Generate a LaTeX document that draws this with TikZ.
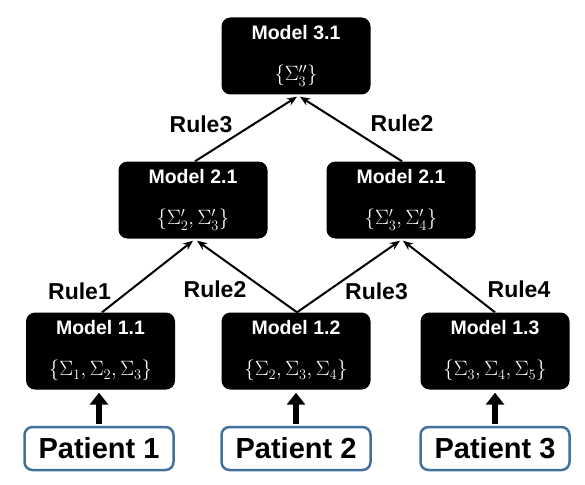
\documentclass[tikz,border=0pt]{standalone}
\usepackage{fontspec}
\setmainfont{Liberation Sans}
\usetikzlibrary{arrows.meta,positioning}
\definecolor{patblue}{HTML}{41719C}

\begin{document}
\begin{tikzpicture}[x=1pt,y=-1pt,>={Stealth[length=10pt,width=8pt]},
    model/.style={fill=black,text=white,rounded corners=9pt,minimum width=149pt,minimum height=77pt,
      align=center,inner sep=0pt,font=\fontsize{19.5}{23}\selectfont\bfseries},
    patient/.style={draw=patblue,line width=2.5pt,fill=white,rounded corners=8pt,minimum width=149pt,
      minimum height=43pt,inner sep=0pt,font=\fontsize{29}{34}\selectfont\bfseries},
    rule/.style={font=\fontsize{23}{27}\selectfont\bfseries},
    link/.style={->,line width=2pt},
    feed/.style={line width=6pt,-{Triangle[width=18pt,length=12pt]},shorten >=3pt,shorten <=2pt}]

    \useasboundingbox (0,0) rectangle (585,484);

    % Modelle
    \node[model] (m31) at (296,56) {Model 3.1\\[18pt]$\{\Sigma_3''\}$};
    \node[model] (m21a) at (193,200) {Model 2.1\\[18pt]$\{\Sigma_2',\Sigma_3'\}$};
    \node[model] (m21b) at (401,200) {Model 2.1\\[18pt]$\{\Sigma_3',\Sigma_4'\}$};
    \node[model] (m11) at (100.5,351) {Model 1.1\\[18pt]$\{\Sigma_1,\Sigma_2,\Sigma_3\}$};
    \node[model] (m12) at (296,351) {Model 1.2\\[18pt]$\{\Sigma_2,\Sigma_3,\Sigma_4\}$};
    \node[model] (m13) at (495,351) {Model 1.3\\[18pt]$\{\Sigma_3,\Sigma_4,\Sigma_5\}$};

    % Patienten
    \node[patient] (p1) at (99,448.5) {Patient 1};
    \node[patient] (p2) at (296,448.5) {Patient 2};
    \node[patient] (p3) at (495,448.5) {Patient 3};

    % Pfeile
    \draw[link]
    ([xshift=2pt]m21a.north) -- node[rule,xshift=-45pt,yshift=5pt] {Rule3} ([xshift=1pt,yshift=-2pt]m31.south);
    \draw[link]
    ([xshift=1pt]m21b.north) -- node[rule,xshift=51pt,yshift=6pt] {Rule2} ([xshift=4pt,yshift=-2pt]m31.south);
    \draw[link]
    ([xshift=1.5pt]m11.north) -- node[rule,xshift=-68pt,yshift=-15pt] {Rule1} ([xshift=0pt,yshift=-2pt]m21a.south);
    \draw[link]
    ([xshift=1pt]m12.north) -- node[rule,xshift=-32pt,yshift=-13pt] {Rule2} ([xshift=4pt,yshift=-2pt]m21a.south);
    \draw[link]
    ([xshift=1pt]m12.north) -- node[rule,xshift=28pt,yshift=-15pt] {Rule3} ([xshift=-1pt,yshift=-2pt]m21b.south);
    \draw[link]
    (m13.north) -- node[rule,xshift=70pt,yshift=-13pt] {Rule4} ([xshift=2pt,yshift=-2pt]m21b.south);

    \draw[feed] (p1) -- (p1 |- m11.south);
    \draw[feed] (p2) -- (p2 |- m12.south);
    \draw[feed] (p3) -- (p3 |- m13.south);

\end{tikzpicture}
\end{document}
